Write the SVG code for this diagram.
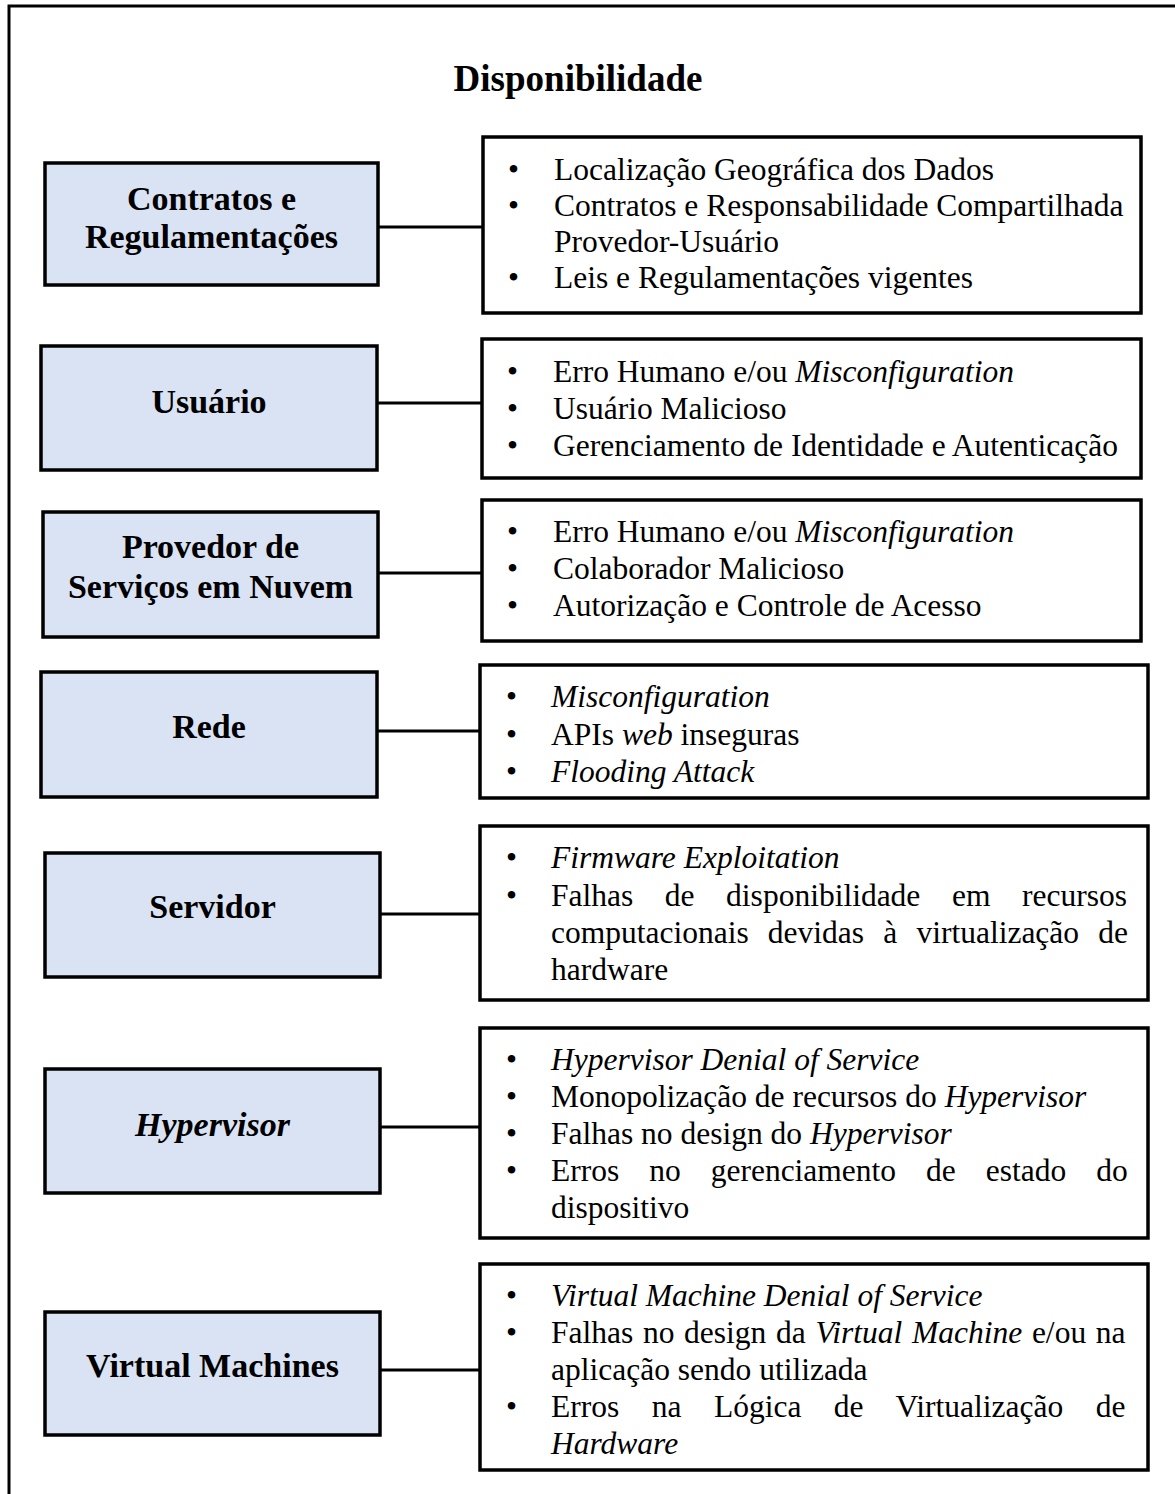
<svg xmlns="http://www.w3.org/2000/svg" width="1175" height="1494" viewBox="0 0 1175 1494">
<style>
.frame{fill:none;stroke:#000;stroke-width:3}
.lbox{fill:#DAE3F3;stroke:#000;stroke-width:3.5}
.rbox{fill:#fff;stroke:#000;stroke-width:3.5}
.conn line{stroke:#000;stroke-width:3}
.title{font-family:"Liberation Serif","Times New Roman",serif;font-weight:bold;font-size:37px;text-anchor:middle}
.lbl{font-family:"Liberation Serif","Times New Roman",serif;font-weight:bold;font-size:34px;text-anchor:middle}
.txt{font-family:"Liberation Serif","Times New Roman",serif;font-size:31.5px}
.it{font-style:italic}
</style>
<rect width="1175" height="1494" fill="#fff"/>
<path class="frame" d="M9,1500 V6 H1180"/>
<text class="title" x="578" y="91">Disponibilidade</text>

<g class="conn" id="connectors">
<line x1="378" y1="227" x2="483" y2="227"/>
<line x1="377" y1="403" x2="482" y2="403"/>
<line x1="378" y1="573" x2="482" y2="573"/>
<line x1="377" y1="731" x2="480" y2="731"/>
<line x1="380" y1="914" x2="480" y2="914"/>
<line x1="380" y1="1127" x2="480" y2="1127"/>
<line x1="380" y1="1370" x2="480" y2="1370"/>
</g>

<g id="n-contratos">
<rect class="lbox" x="45" y="163" width="333" height="122"/>
<text class="lbl" x="211.5" y="210">Contratos e</text>
<text class="lbl" x="211.5" y="248">Regulamentações</text>
</g>
<g id="n-contratos-itens">
<rect class="rbox" x="483" y="137" width="658" height="176"/>
<text class="txt" x="508" y="180">•</text>
<text class="txt" x="554" y="180">Localização Geográfica dos Dados</text>
<text class="txt" x="508" y="216">•</text>
<text class="txt" x="554" y="216">Contratos e Responsabilidade Compartilhada</text>
<text class="txt" x="554" y="252">Provedor-Usuário</text>
<text class="txt" x="508" y="288">•</text>
<text class="txt" x="554" y="288">Leis e Regulamentações vigentes</text>
</g>

<g id="n-usuario">
<rect class="lbox" x="41" y="346" width="336" height="124"/>
<text class="lbl" x="209" y="413">Usuário</text>
</g>
<g id="n-usuario-itens">
<rect class="rbox" x="482" y="339" width="659" height="139"/>
<text class="txt" x="507" y="382">•</text>
<text class="txt" x="553" y="382">Erro Humano e/ou <tspan class="it">Misconfiguration</tspan></text>
<text class="txt" x="507" y="419">•</text>
<text class="txt" x="553" y="419">Usuário Malicioso</text>
<text class="txt" x="507" y="456">•</text>
<text class="txt" x="553" y="456">Gerenciamento de Identidade e Autenticação</text>
</g>

<g id="n-provedor">
<rect class="lbox" x="43" y="512" width="335" height="125"/>
<text class="lbl" x="210.5" y="558">Provedor de</text>
<text class="lbl" x="210.5" y="598">Serviços em Nuvem</text>
</g>
<g id="n-provedor-itens">
<rect class="rbox" x="482" y="500" width="659" height="141"/>
<text class="txt" x="507" y="542">•</text>
<text class="txt" x="553" y="542">Erro Humano e/ou <tspan class="it">Misconfiguration</tspan></text>
<text class="txt" x="507" y="579">•</text>
<text class="txt" x="553" y="579">Colaborador Malicioso</text>
<text class="txt" x="507" y="616">•</text>
<text class="txt" x="553" y="616">Autorização e Controle de Acesso</text>
</g>

<g id="n-rede">
<rect class="lbox" x="41" y="672" width="336" height="125"/>
<text class="lbl" x="209" y="738">Rede</text>
</g>
<g id="n-rede-itens">
<rect class="rbox" x="480" y="665" width="668" height="133"/>
<text class="txt" x="506" y="707">•</text>
<text class="txt it" x="551" y="707">Misconfiguration</text>
<text class="txt" x="506" y="745">•</text>
<text class="txt" x="551" y="745">APIs <tspan class="it">web</tspan> inseguras</text>
<text class="txt" x="506" y="782">•</text>
<text class="txt it" x="551" y="782">Flooding Attack</text>
</g>

<g id="n-servidor">
<rect class="lbox" x="45" y="853" width="335" height="124"/>
<text class="lbl" x="212.5" y="918">Servidor</text>
</g>
<g id="n-servidor-itens">
<rect class="rbox" x="480" y="826" width="668" height="174"/>
<text class="txt" x="506" y="868">•</text>
<text class="txt it" x="551" y="868">Firmware Exploitation</text>
<text class="txt" x="506" y="906">•</text>
<text class="txt" x="551" y="906" style="word-spacing:23.7px">Falhas de disponibilidade em recursos</text>
<text class="txt" x="551" y="943" style="word-spacing:11.3px">computacionais devidas à virtualização de</text>
<text class="txt" x="551" y="980">hardware</text>
</g>

<g id="n-hypervisor">
<rect class="lbox" x="45" y="1069" width="335" height="124"/>
<text class="lbl it" x="212.5" y="1136">Hypervisor</text>
</g>
<g id="n-hypervisor-itens">
<rect class="rbox" x="480" y="1028" width="668" height="210"/>
<text class="txt" x="506" y="1070">•</text>
<text class="txt it" x="551" y="1070">Hypervisor Denial of Service</text>
<text class="txt" x="506" y="1107">•</text>
<text class="txt" x="551" y="1107">Monopolização de recursos do <tspan class="it">Hypervisor</tspan></text>
<text class="txt" x="506" y="1144">•</text>
<text class="txt" x="551" y="1144">Falhas no design do <tspan class="it">Hypervisor</tspan></text>
<text class="txt" x="506" y="1181">•</text>
<text class="txt" x="551" y="1181" style="word-spacing:22.1px">Erros no gerenciamento de estado do</text>
<text class="txt" x="551" y="1218">dispositivo</text>
</g>

<g id="n-vm">
<rect class="lbox" x="45" y="1312" width="335" height="123"/>
<text class="lbl" x="212.5" y="1377">Virtual Machines</text>
</g>
<g id="n-vm-itens">
<rect class="rbox" x="480" y="1264" width="668" height="206"/>
<text class="txt" x="506" y="1306">•</text>
<text class="txt it" x="551" y="1306">Virtual Machine Denial of Service</text>
<text class="txt" x="506" y="1343">•</text>
<text class="txt" x="551" y="1343" style="word-spacing:1.8px">Falhas no design da <tspan class="it">Virtual Machine</tspan> e/ou na</text>
<text class="txt" x="551" y="1380">aplicação sendo utilizada</text>
<text class="txt" x="506" y="1417">•</text>
<text class="txt" x="551" y="1417" style="word-spacing:24.6px">Erros na Lógica de Virtualização de</text>
<text class="txt it" x="551" y="1454">Hardware</text>
</g>
</svg>
